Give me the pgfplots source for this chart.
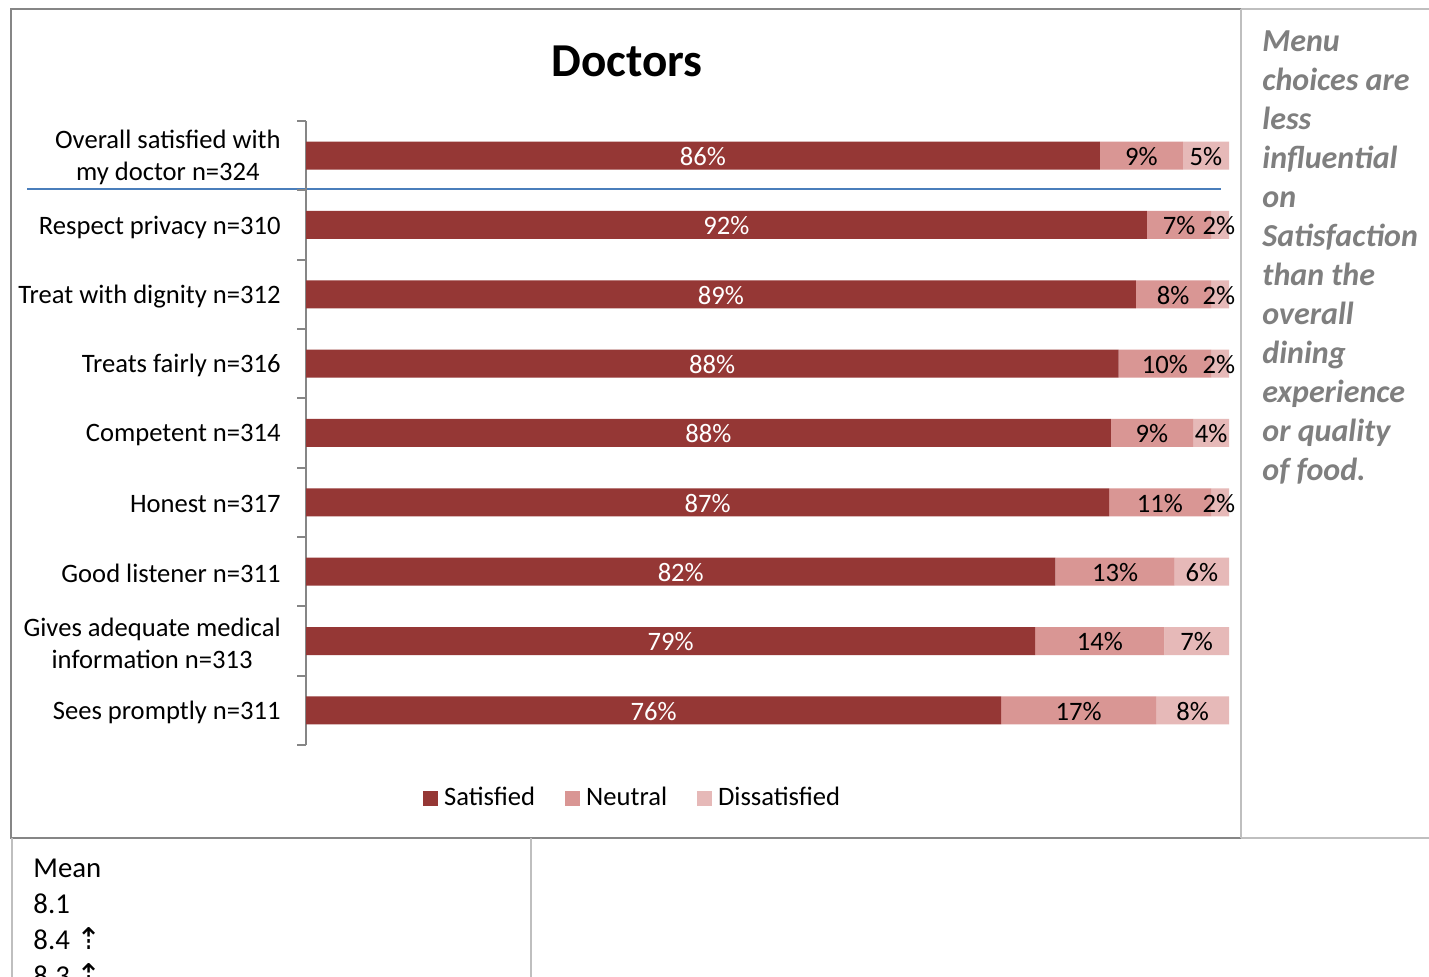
\documentclass[border=0pt]{standalone}
\usepackage{pgfplots}
\pgfplotsset{compat=1.18}
\usepackage{pgfplotstable}
\usepackage{fontspec}
\setmainfont{Carlito}
\newfontfamily\symfont{DejaVu Sans}
\definecolor{sat}{HTML}{953735}
\definecolor{neu}{HTML}{D99694}
\definecolor{dis}{HTML}{E6B9B8}
\definecolor{axgray}{HTML}{868686}
\definecolor{lgray}{HTML}{BFBFBF}
\definecolor{notegray}{HTML}{7F7F7F}
\definecolor{sepblue}{HTML}{4A7EBB}

% rows from bottom (0) to top (8)
\pgfplotstableread{
y sat neu dis
0 75.3 16.8 7.9
1 79.0 14.0 7.0
2 81.2 12.9 5.9
3 87.0 11.05 1.95
4 87.2 8.9 3.9
5 88.05 10.0 1.95
6 89.9 8.15 1.95
7 91.1 6.95 1.95
8 86.0 9.0 5.0
}\bars

\pgfplotstableread{
y xs ls xn ln xd ld
0 37.65 76 83.7 17 96.05 8
1 39.5 79 86.0 14 96.5 7
2 40.6 82 87.65 13 97.05 6
3 43.5 87 92.5 11 98.9 2
4 43.6 88 91.65 9 98.05 4
5 44.0 88 93.05 10 98.9 2
6 44.95 89 93.95 8 98.9 2
7 45.55 92 94.6 7 98.9 2
8 43.0 86 90.5 9 97.5 5
}\labs

\newcommand{\lblfont}{\fontsize{13.3}{16}\selectfont}

\begin{document}
\begin{tikzpicture}
\begin{scope}[x=0.5pt,y=-0.5pt]
  \path[use as bounding box] (0,0) rectangle (1429,977);
  \clip (0,0) rectangle (1429,977);
  \fill[white] (0,0) rectangle (1429,977);
  % chart frame
  \draw[axgray, line width=1pt] (1241,9) -- (11,9) -- (11,838) -- (1241,838);
  \draw[lgray, line width=1pt] (1241,9) -- (1429,9);
  \draw[lgray, line width=1pt] (1241,838) -- (1429,838);
  \draw[lgray, line width=1pt] (1241,9) -- (1241,838);
  % table below
  \draw[lgray, line width=1pt] (12,838) -- (12,977);
  \draw[lgray, line width=1pt] (531,838) -- (531,977);
  % title
  \node[anchor=base, inner sep=0pt, font=\fontsize{23.6}{28}\selectfont\bfseries] at (627,77) {Doctors};
  % separator line
  \draw[sepblue, line width=1pt] (27,189) -- (1221,189);
  % right note
  \foreach \t [count=\i from 0] in {Menu, choices are, less, influential, on, Satisfaction, than the, overall, dining, experience, or quality, of food.}{
    \node[anchor=base west, inner sep=0pt, text=notegray, font=\fontsize{16}{19.5}\selectfont\bfseries\itshape] at (1262,{52+39*\i}) {\t};
  }
  % mean column
  \node[anchor=base west, inner sep=0pt, font=\fontsize{14.4}{18}\selectfont] at (33,877) {Mean};
  \node[anchor=base west, inner sep=0pt, font=\fontsize{14.4}{18}\selectfont] at (33,913) {8.1};
  \node[anchor=base west, inner sep=0pt, font=\fontsize{14.4}{18}\selectfont] at (33,949) {8.4 {\symfont\fontsize{15}{18}\selectfont ⇡}};
  \node[anchor=base west, inner sep=0pt, font=\fontsize{14.4}{18}\selectfont] at (33,985) {8.3 {\symfont\fontsize{15}{18}\selectfont ⇡}};
\end{scope}

\begin{axis}[
  at={(153pt,-372.5pt)}, anchor=south west,
  width=461.5pt, height=312pt, scale only axis,
  xbar stacked, bar width=14pt,
  xmin=0, xmax=100, ymin=-0.5, ymax=8.5,
  axis x line=none, axis y line*=left,
  ytick={0,...,8},
  yticklabels={Sees promptly n=311, {Gives adequate medical\\information n=313}, Good listener n=311, Honest n=317, Competent n=314, Treats fairly n=316, Treat with dignity n=312, Respect privacy n=310, {Overall satisfied with\\my doctor n=324}},
  yticklabel style={align=center, inner sep=0pt, xshift=-12.5pt, yshift=-1pt, font=\lblfont},
  major tick length=0pt,
  minor ytick={-0.5,0.5,...,8.5},
  minor tick length=4.5pt,
  tick align=outside,
  y axis line style={draw=axgray, line width=1pt},
  minor tick style={draw=axgray, line width=1pt},
  legend columns=3,
  legend image code/.code={\fill[#1] (0pt,-3.75pt) rectangle (7.5pt,3.75pt);},
  legend style={at={(0.355,-0.085)}, anchor=center, draw=none, fill=none, font=\lblfont,
    /tikz/every even column/.append style={column sep=13pt},
    /tikz/every odd column/.append style={column sep=1pt}},
]
\addplot[fill=sat, draw=none] table[x=sat, y=y] {\bars};
\addplot[fill=neu, draw=none] table[x=neu, y=y] {\bars};
\addplot[fill=dis, draw=none] table[x=dis, y=y] {\bars};
\legend{Satisfied, Neutral, Dissatisfied}
\end{axis}

\begin{axis}[
  at={(153pt,-372.5pt)}, anchor=south west,
  width=461.5pt, height=312pt, scale only axis,
  xmin=0, xmax=100, ymin=-0.5, ymax=8.5,
  hide axis, clip=false,
  nodes near coords={\pgfplotspointmeta\%},
  point meta=explicit symbolic,
  every node near coord/.append style={anchor=center, font=\lblfont, inner sep=0pt, yshift=-0.5pt},
]
\addplot[only marks, mark=*, mark size=0pt, mark options={draw=none, fill=none},
  every node near coord/.append style={text=white}] table[x=xs, y=y, meta=ls] {\labs};
\addplot[only marks, mark=*, mark size=0pt, mark options={draw=none, fill=none},
  every node near coord/.append style={text=black}] table[x=xn, y=y, meta=ln] {\labs};
\addplot[only marks, mark=*, mark size=0pt, mark options={draw=none, fill=none},
  every node near coord/.append style={text=black}] table[x=xd, y=y, meta=ld] {\labs};
\end{axis}
\end{tikzpicture}
\end{document}
